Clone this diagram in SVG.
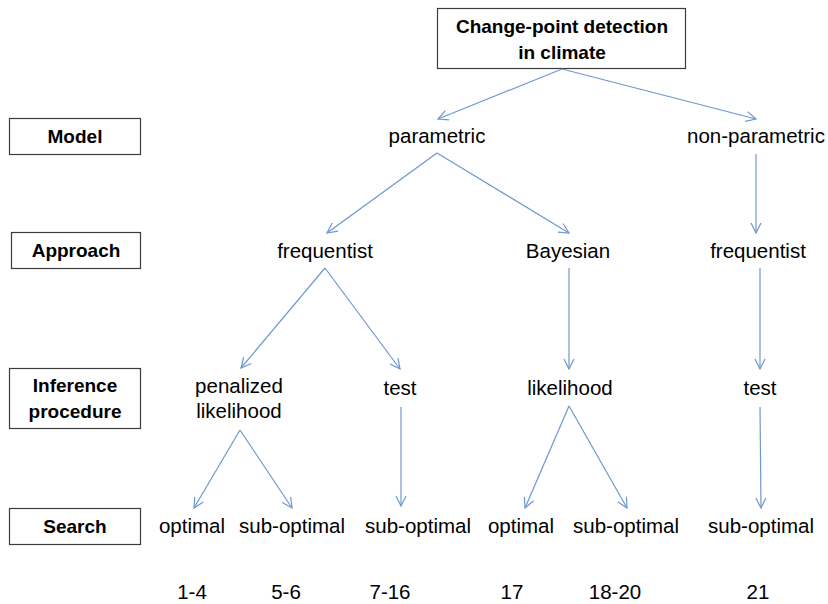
<svg xmlns="http://www.w3.org/2000/svg" width="828" height="604" viewBox="0 0 828 604">
  <style>
    text { font-family: "Liberation Sans", "Open Sans", sans-serif; font-size: 20.5px; fill: #000; text-anchor: middle; }
    .hdr { font-weight: bold; font-size: 19px; }
    .box { fill: #fff; stroke: #3c3c3c; stroke-width: 1.2; }
    .edge { stroke: #6f97cf; stroke-width: 1.2; fill: none; marker-end: url(#arr); }
  </style>
  <defs>
    <marker id="arr" viewBox="0 0 12 12" refX="11" refY="6" markerWidth="12" markerHeight="12" markerUnits="userSpaceOnUse" orient="auto">
      <path d="M1,1 L11,6 L1,11" fill="none" stroke="#6f97cf" stroke-width="1.2"/>
    </marker>
  </defs>
  <rect width="828" height="604" fill="#fff"/>

  <g id="root">
    <rect class="box" x="437.5" y="8.5" width="248" height="60"/>
    <text class="hdr" x="562" y="33">Change-point detection</text>
    <text class="hdr" x="562" y="59">in climate</text>
  </g>

  <g id="level-model">
    <rect class="box" x="9.5" y="118.5" width="131" height="36"/>
    <text class="hdr" x="75" y="143">Model</text>
  </g>
  <g id="level-approach">
    <rect class="box" x="11.5" y="232.5" width="129" height="36"/>
    <text class="hdr" x="76" y="257">Approach</text>
  </g>
  <g id="level-inference">
    <rect class="box" x="9.5" y="368.5" width="131" height="60"/>
    <text class="hdr" x="75" y="392">Inference</text>
    <text class="hdr" x="75" y="418">procedure</text>
  </g>
  <g id="level-search">
    <rect class="box" x="9.5" y="508.5" width="131" height="36"/>
    <text class="hdr" x="75" y="533">Search</text>
  </g>

  <g id="parametric"><text x="437" y="143">parametric</text></g>
  <g id="non-parametric"><text x="756" y="143">non-parametric</text></g>
  <g id="frequentist-p"><text x="325" y="258">frequentist</text></g>
  <g id="bayesian"><text x="568" y="258">Bayesian</text></g>
  <g id="frequentist-np"><text x="758" y="258">frequentist</text></g>
  <g id="penalized"><text x="239" y="393">penalized</text><text x="239" y="418">likelihood</text></g>
  <g id="test-p"><text x="400" y="395">test</text></g>
  <g id="likelihood"><text x="570" y="395">likelihood</text></g>
  <g id="test-np"><text x="760" y="395">test</text></g>

  <g id="s1"><text x="192" y="533">optimal</text></g>
  <g id="s2"><text x="292" y="533">sub-optimal</text></g>
  <g id="s3"><text x="418" y="533">sub-optimal</text></g>
  <g id="s4"><text x="521" y="533">optimal</text></g>
  <g id="s5"><text x="626" y="533">sub-optimal</text></g>
  <g id="s6"><text x="761" y="533">sub-optimal</text></g>

  <g id="refs" style="font-size:17px">
    <text x="192" y="599">1-4</text>
    <text x="286" y="599">5-6</text>
    <text x="390" y="599">7-16</text>
    <text x="512" y="599">17</text>
    <text x="615" y="599">18-20</text>
    <text x="758" y="599">21</text>
  </g>

  <g id="connectors">
    <line class="edge" x1="562" y1="69" x2="438" y2="119"/>
    <line class="edge" x1="562" y1="69" x2="756" y2="119"/>
    <line class="edge" x1="437" y1="153" x2="327" y2="233"/>
    <line class="edge" x1="437" y1="153" x2="569" y2="233"/>
    <line class="edge" x1="756" y1="154" x2="756" y2="233"/>
    <line class="edge" x1="325" y1="268" x2="241" y2="368"/>
    <line class="edge" x1="325" y1="268" x2="400" y2="369"/>
    <line class="edge" x1="569" y1="268" x2="569" y2="369"/>
    <line class="edge" x1="760" y1="268" x2="760" y2="369"/>
    <line class="edge" x1="240" y1="430" x2="194" y2="508"/>
    <line class="edge" x1="240" y1="430" x2="292" y2="508"/>
    <line class="edge" x1="401" y1="407" x2="401" y2="506"/>
    <line class="edge" x1="569" y1="406" x2="525" y2="508"/>
    <line class="edge" x1="569" y1="406" x2="627" y2="508"/>
    <line class="edge" x1="760" y1="407" x2="761" y2="508"/>
  </g>
</svg>
